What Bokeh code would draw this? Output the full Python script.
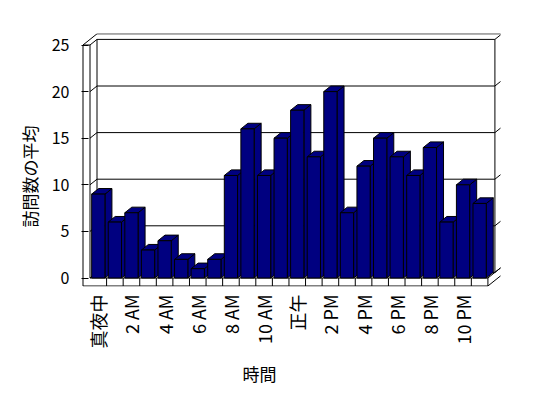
import math
from bokeh.plotting import figure
from bokeh.models import FixedTicker, Range1d, Title
from bokeh.embed import file_html
from bokeh.resources import INLINE

# ---------------- data ----------------
categories = ["真夜中", "1 AM", "2 AM", "3 AM", "4 AM", "5 AM", "6 AM", "7 AM",
              "8 AM", "9 AM", "10 AM", "11 AM", "正午", "1 PM", "2 PM", "3 PM",
              "4 PM", "5 PM", "6 PM", "7 PM", "8 PM", "9 PM", "10 PM", "11 PM"]
visits = [9, 6, 7, 3, 4, 2, 1, 2, 11, 16, 11, 15, 18, 13, 20, 7, 12, 15, 13, 11, 14, 6, 10, 8]
y_ticks = [0, 5, 10, 15, 20, 25]
x_title = "時間"
y_title = "訪問数の平均"

# ---------------- layout (pixels) ----------------
W, H = 548, 398
FL, FR, FT, FB = 81, 500, 33, 286        # frame edges
CAT_PX = 16.58                            # px per category
Y_PX = 9.32                               # px per unit
X0_PX, Y0_PX = 89.5, 277.5                # front-plane origin (left of cat 0, value 0)
DX_PX, DY_PX = 7.0, 5.6                   # depth offset per plane

x_start = -0.5 - (X0_PX - FL) / CAT_PX
x_end = x_start + (FR - FL) / CAT_PX
y_start = -(FB - Y0_PX) / Y_PX
y_end = y_start + (FB - FT) / Y_PX
DDX = DX_PX / CAT_PX
DDY = DY_PX / Y_PX
N = len(categories)
XL, XR = -0.5, N - 0.5
TOP = max(y_ticks)
FLOOR = -8.0 / Y_PX
BW = 0.4
FONT = "Noto Sans CJK JP"
NAVY = "#000080"

p = figure(width=W, height=H, output_backend="svg", toolbar_location=None,
           x_range=Range1d(x_start, x_end), y_range=Range1d(y_start, y_end),
           min_border_left=FL, min_border_right=W - FR,
           min_border_top=FT, min_border_bottom=H - FB)
p.outline_line_color = None
p.background_fill_color = "white"
p.border_fill_color = "white"
p.xgrid.visible = False
p.ygrid.visible = False

# ---------------- walls, floor, gridlines ----------------
xs, ys = [], []


def seg(x0, y0, x1, y1):
    xs.append([x0, x1])
    ys.append([y0, y1])


# left wall front face
seg(XL - DDX, FLOOR, XL - DDX, TOP)
seg(XL, 0, XL, TOP)
seg(XL - DDX, TOP, XL, TOP)
# left wall top
seg(XL - DDX, TOP, XL + DDX, TOP + 2 * DDY)
seg(XL, TOP, XL + DDX, TOP + DDY)
# back wall front surface
seg(XL + DDX, TOP + DDY, XR + DDX, TOP + DDY)
seg(XL + DDX, DDY, XL + DDX, TOP + DDY)
seg(XR + DDX, DDY, XR + DDX, TOP + DDY)
# back wall top / right outer
seg(XL + DDX, TOP + 2 * DDY, XR + 2 * DDX, TOP + 2 * DDY)
seg(XR + DDX, TOP + DDY, XR + 2 * DDX, TOP + 2 * DDY)
seg(XR + 2 * DDX, TOP + 2 * DDY, XR + 2 * DDX, FLOOR + 2 * DDY)
# gridlines
for v in y_ticks[:-1]:
    seg(XL, v, XL + DDX, v + DDY)
    seg(XL + DDX, v + DDY, XR + DDX, v + DDY)
    seg(XR + DDX, v + DDY, XR + 2 * DDX, v + 2 * DDY)
# floor front face
seg(XL - DDX, FLOOR, XR, FLOOR)
seg(XL, 0, XR, 0)
seg(XR, FLOOR, XR, 0)
seg(XR, 0, XR + 2 * DDX, 2 * DDY)
seg(XR, FLOOR, XR + 2 * DDX, FLOOR + 2 * DDY)
for i in range(N - 1):
    seg(i + 0.5, FLOOR, i + 0.5, 0)

p.multi_line(xs, ys, line_color="black", line_width=1)

# ---------------- bars ----------------
bx, by = [], []
for i, v in enumerate(visits):
    l, r = i - BW, i + BW
    bx.append([r, r + DDX, r + DDX, r])
    by.append([0, DDY, v + DDY, v])
    bx.append([l, l + DDX, r + DDX, r])
    by.append([v, v + DDY, v + DDY, v])
    bx.append([l, r, r, l])
    by.append([0, 0, v, v])
p.patches(bx, by, fill_color=NAVY, line_color="black", line_width=1)

# ---------------- axes ----------------
p.xaxis.ticker = FixedTicker(ticks=list(range(0, N, 2)))
p.xaxis.major_label_overrides = {i: categories[i] for i in range(0, N, 2)}
p.xaxis.major_label_orientation = math.pi / 2
p.xaxis.axis_line_color = None
p.xaxis.major_tick_in = 0
p.xaxis.major_tick_out = 0
p.xaxis.minor_tick_line_color = None
p.xaxis.major_label_standoff = 8
p.xaxis.major_label_text_font = FONT
p.xaxis.major_label_text_font_size = "18px"
p.xaxis.major_label_text_color = "black"

p.yaxis.ticker = FixedTicker(ticks=y_ticks)
p.yaxis.axis_line_color = None
p.yaxis.major_tick_in = 7
p.yaxis.major_tick_out = 0
p.yaxis.major_tick_line_color = "black"
p.yaxis.minor_tick_line_color = None
p.yaxis.major_label_standoff = 12
p.yaxis.major_label_text_font = FONT
p.yaxis.major_label_text_font_size = "16px"
p.yaxis.major_label_text_color = "black"

p.add_layout(Title(text=x_title, align="left", offset=161, standoff=15,
                   text_font=FONT, text_font_size="17px", text_font_style="normal",
                   text_color="black"), "below")
p.add_layout(Title(text=y_title, align="left", offset=59, standoff=14,
                   text_font=FONT, text_font_size="17px", text_font_style="normal",
                   text_color="black"), "left")

open("out.html", "w").write(file_html(p, INLINE))
